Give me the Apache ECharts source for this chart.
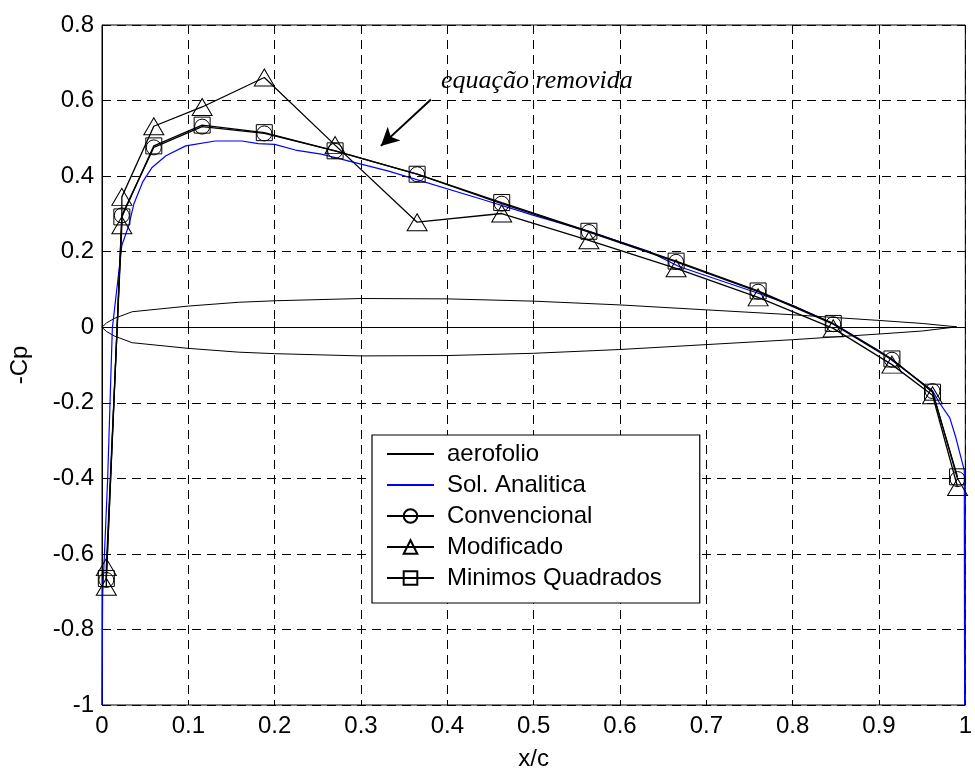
<!DOCTYPE html>
<html>
<head>
<meta charset="utf-8">
<script src="https://cdn.jsdelivr.net/npm/echarts@6/dist/echarts.min.js"></script>
<style>
html, body { margin: 0; padding: 0; background: #fff; }
#chart { width: 975px; height: 776px; }
</style>
</head>
<body>
<div id="chart"></div>
<script>
// airfoil contour: upper surface LE -> TE, then lower surface TE -> LE
let foilX = [0, 0.005, 0.014, 0.035, 0.1, 0.158, 0.2, 0.3, 0.4, 0.5, 0.6, 0.7, 0.8, 0.9, 0.95, 0.99];
let foilY = [0, 0.011, 0.023, 0.041, 0.056, 0.066, 0.07, 0.076, 0.075, 0.069, 0.059, 0.046, 0.033, 0.018, 0.01, 0.001];

// analytic solution (blue)
let solX = [0, 0.0007, 0.0065, 0.012, 0.023, 0.031, 0.037, 0.047, 0.058, 0.074, 0.097, 0.131, 0.162, 0.181, 0.2, 0.224, 0.254, 0.277, 0.331, 0.438, 0.5, 0.565, 0.634, 0.669, 0.76, 0.8, 0.85, 0.9, 0.962, 0.97, 0.982, 0.989, 0.9988, 0.9992];
let solY = [-1, -0.713, -0.405, -0.002, 0.217, 0.269, 0.327, 0.384, 0.423, 0.454, 0.48, 0.493, 0.493, 0.486, 0.484, 0.469, 0.458, 0.445, 0.414, 0.34, 0.296, 0.253, 0.2, 0.16, 0.09, 0.058, 0.006, -0.062, -0.168, -0.2, -0.24, -0.292, -0.379, -1];

// panel points
let ptX = [0.005, 0.023, 0.06, 0.116, 0.188, 0.27, 0.365, 0.463, 0.564, 0.665, 0.76, 0.847, 0.915, 0.962, 0.991];
let convY = [-0.669, 0.296, 0.476, 0.531, 0.513, 0.467, 0.405, 0.327, 0.252, 0.173, 0.094, 0.008, -0.086, -0.169, -0.402];
let mqY = [-0.665, 0.292, 0.48, 0.535, 0.515, 0.467, 0.405, 0.33, 0.254, 0.175, 0.096, 0.01, -0.084, -0.172, -0.396];

// modificado has two points at the first two stations
let modX = [0.005, 0.005, 0.023, 0.023, 0.06, 0.116, 0.188, 0.27, 0.365, 0.463, 0.564, 0.665, 0.76, 0.847, 0.915, 0.962, 0.991];
let modY = [-0.687, -0.635, 0.27, 0.345, 0.532, 0.583, 0.661, 0.482, 0.278, 0.301, 0.23, 0.156, 0.079, -0.003, -0.099, -0.18, -0.423];

let names = ['aerofolio', 'Sol. Analitica', 'Convencional', 'Modificado', 'Minimos Quadrados'];

function pairs(xs, ys) {
	let out = [];
	for (let i = 0; i < xs.length; i++) {
		out.push([xs[i], ys[i]]);
	}
	return out;
}

let foil = pairs(foilX, foilY);
for (let i = foilX.length - 2; i >= 0; i--) {
	foil.push([foilX[i], -foilY[i]]);
}

let font = 'Liberation Sans, Arial, sans-serif';
let dash = { color: '#000', type: [9, 6], width: 1 };
let noMark = { color: 'rgba(0,0,0,0)', borderWidth: 0 };

function markerSeries(name, data, symbol, size) {
	return {
		name: name,
		type: 'line',
		data: data,
		symbol: symbol,
		symbolSize: size,
		showSymbol: true,
		showAllSymbol: true,
		z: 5,
		itemStyle: { color: 'rgba(0,0,0,0)', borderColor: '#000', borderWidth: 1 },
		lineStyle: { color: '#000', width: 1.3 },
		emphasis: { disabled: true },
		animation: false
	};
}

let chart = echarts.init(document.getElementById('chart'));
let option = {
	backgroundColor: '#fff',
	animation: false,
	grid: {
		left: 102, right: 4, top: 25, bottom: 67,
		show: true, borderColor: '#000', borderWidth: 1
	},
	xAxis: {
		type: 'value',
		min: 0, max: 1, interval: 0.1,
		name: 'x/c',
		nameLocation: 'middle',
		nameGap: 42,
		nameTextStyle: { fontFamily: font, fontSize: 24, color: '#000' },
		axisLine: { lineStyle: { color: '#000' } },
		axisTick: { inside: true, length: 6, lineStyle: { color: '#000' } },
		axisLabel: { fontFamily: font, fontSize: 24, color: '#000', margin: 9 },
		splitLine: { show: true, lineStyle: dash }
	},
	yAxis: {
		type: 'value',
		min: -1, max: 0.8, interval: 0.2,
		name: '-Cp',
		nameLocation: 'middle',
		nameGap: 70,
		nameRotate: 90,
		nameTextStyle: { fontFamily: font, fontSize: 24, color: '#000' },
		axisLine: { lineStyle: { color: '#000' } },
		axisTick: { inside: true, length: 6, lineStyle: { color: '#000' } },
		axisLabel: { fontFamily: font, fontSize: 24, color: '#000', margin: 8 },
		splitLine: { show: true, lineStyle: dash }
	},
	legend: {
		orient: 'vertical',
		left: 372,
		top: 435,
		padding: [7, 38, 13, 14],
		itemWidth: 47,
		itemHeight: 17,
		itemGap: 7,
		backgroundColor: '#fff',
		borderColor: '#000',
		borderWidth: 1.2,
		borderRadius: 0,
		selectedMode: false,
		textStyle: { fontFamily: font, fontSize: 24, color: '#000', lineHeight: 24, padding: [0, 0, 0, 8] },
		data: [
			{ name: names[0], itemStyle: noMark },
			{ name: names[1], itemStyle: noMark },
			names[2], names[3], names[4]
		]
	},
	graphic: [{
		type: 'text',
		left: 441,
		top: 68,
		style: {
			text: 'equação removida',
			font: 'italic 26px "Liberation Serif", "Times New Roman", serif',
			fill: '#000'
		}
	}],
	series: [{
		name: names[0],
		type: 'line',
		data: foil,
		symbol: 'none',
		lineStyle: { color: '#000', width: 1 },
		itemStyle: { color: '#000' },
		z: 2,
		markLine: {
			silent: true,
			symbol: ['none', 'arrow'],
			symbolSize: [14, 18],
			label: { show: false },
			lineStyle: { color: '#000', width: 2, type: 'solid' },
			data: [[{ coord: [0.381, 0.603] }, { coord: [0.323, 0.48] }]]
		}
	}, {
		name: names[1],
		type: 'line',
		data: pairs(solX, solY),
		symbol: 'none',
		lineStyle: { color: '#0000ff', width: 1.2 },
		itemStyle: { color: '#0000ff' },
		z: 3
	},
		markerSeries(names[2], pairs(ptX, convY), 'circle', 15),
		markerSeries(names[3], pairs(modX, modY), 'triangle', [20, 17]),
		markerSeries(names[4], pairs(ptX, mqY), 'rect', 16)
	]
};
chart.setOption(option);
</script>
</body>
</html>
